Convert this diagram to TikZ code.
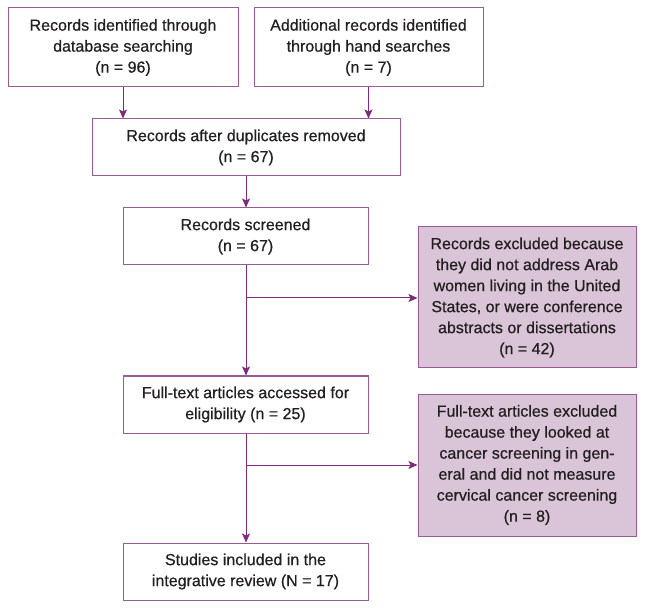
\documentclass[tikz,border=0pt]{standalone}
\usepackage{fontspec}
\setmainfont{Liberation Sans}
\newfontfamily\boxfont[FakeBold=0.6]{Liberation Sans}
\usetikzlibrary{arrows.meta}
\definecolor{pline}{HTML}{7E2C7A}
\definecolor{pbox}{HTML}{9A5A96}
\definecolor{pfill}{HTML}{D9C5D7}
\definecolor{ptext}{HTML}{231F20}
\begin{document}
\begin{tikzpicture}[x=1pt,y=-1pt,
  box/.style={draw=pbox, line width=1pt, fill=white, align=center, text=ptext,
    font=\boxfont\fontsize{16}{21}\selectfont, inner sep=0pt, anchor=center},
  excl/.style={box, fill=pfill},
  arr/.style={draw=pline, line width=1pt, -{Stealth[length=9pt,width=8pt,inset=2pt]}},
  ln/.style={draw=pline, line width=1pt}]
\useasboundingbox (0,0) rectangle (645,609);
\node[box, minimum width=230pt, minimum height=79pt] (b1) at (123,47.5)
  {Records identified through\\database searching\\(n = 96)};
\node[box, minimum width=229pt, minimum height=79pt] (b2) at (368.5,47.5)
  {Additional records identified\\through hand searches\\(n = 7)};
\node[box, minimum width=308pt, minimum height=57pt] (b3) at (246,147.5)
  {Records after duplicates removed\\(n = 67)};
\node[box, minimum width=245pt, minimum height=57pt] (b4) at (245.5,236.5)
  {Records screened\\(n = 67)};
\node[excl, minimum width=218pt, minimum height=141pt] (e1) at (527,297.5)
  {Records excluded because\\they did not address Arab\\women living in the United\\States, or were conference\\abstracts or dissertations\\(n = 42)};
\node[box, minimum width=245pt, minimum height=57pt] (b5) at (245.5,404.5)
  {Full-text articles accessed for\\eligibility (n = 25)};
\node[excl, minimum width=218pt, minimum height=142pt] (e2) at (527,465)
  {Full-text articles excluded\\because they looked at\\cancer screening in gen-\\eral and did not measure\\cervical cancer screening\\(n = 8)};
\node[box, minimum width=245pt, minimum height=57pt] (b6) at (245.5,571.5)
  {Studies included in the\\integrative review (N = 17)};
\draw[arr] (b1.south) -- (b1.south |- b3.north);
\draw[arr] (b2.south) -- (b2.south |- b3.north);
\draw[arr] (b3.south) -- (b3.south |- b4.north);
\draw[arr] (b4.south -| b3.south) -- (b3.south |- b5.north);
\draw[arr] (b5.south -| b3.south) -- (b3.south |- b6.north);
\coordinate (j1) at (246,298);
\coordinate (j2) at (246,465);
\draw[arr] (j1) -- (j1 -| e1.west);
\draw[arr] (j2) -- (j2 -| e2.west);
\end{tikzpicture}
\end{document}
